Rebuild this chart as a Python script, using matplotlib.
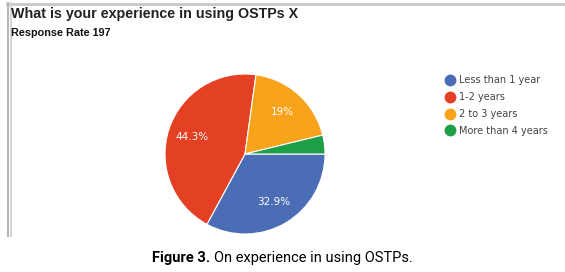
import matplotlib
matplotlib.use("Agg")
import matplotlib.pyplot as plt
from matplotlib.lines import Line2D
import numpy as np

labels = ["Less than 1 year", "1-2 years", "2 to 3 years", "More than 4 years"]
shares = [32.9, 44.3, 19.0, 3.8]
pct_text = ["32.9%", "44.3%", "19%", ""]
colors = ["#4a6db5", "#e44124", "#f8a31c", "#1f9e48"]

W, H = 565, 272
fig = plt.figure(figsize=(W / 100, H / 100), dpi=100)

def fx(px):
    return px / W

def fy(py):
    return 1 - py / H

# screenshot frame (light grey top rule and left double bar)
fig.add_artist(Line2D([fx(7), 1], [fy(4), fy(4)], transform=fig.transFigure,
                      color="#c8c8c8", lw=2))
fig.add_artist(Line2D([fx(8), fx(8)], [fy(3), fy(236)], transform=fig.transFigure,
                      color="#b8b8b8", lw=1.5))
fig.add_artist(Line2D([fx(11), fx(11)], [fy(3), fy(236)], transform=fig.transFigure,
                      color="#d6d6d6", lw=1.5))

fig.text(fx(11), fy(14), "What is your experience in using OSTPs X",
         fontsize=10.3, fontweight="bold", color="#222222", va="center",
         family="Liberation Sans")
fig.text(fx(11), fy(33), "Response Rate 197", fontsize=7.8, fontweight="bold",
         color="#111111", va="center", family="Liberation Sans")

# pie
cx, cy, r = 245, 154, 80
ax = fig.add_axes([fx(cx - r), fy(cy + r), fx(2 * r), fy(cy - r) - fy(cy + r)])
wedges, _ = ax.pie(shares, colors=colors, startangle=0, counterclock=False,
                   wedgeprops=dict(edgecolor="white", linewidth=0.8))
ax.set_xlim(-1, 1)
ax.set_ylim(-1, 1)
ax.set_aspect("equal")

cum = 0
for s, t in zip(shares, pct_text):
    mid = -(cum + s / 2) / 100 * 360
    cum += s
    if t:
        ax.text(0.7 * np.cos(np.radians(mid)), 0.7 * np.sin(np.radians(mid)), t,
                color="white", fontsize=7.5, ha="center", va="center")

handles = [Line2D([], [], marker="o", linestyle="none", markersize=7.5,
                  markerfacecolor=c, markeredgecolor=c) for c in colors]
fig.legend(handles, labels, loc="upper left", bbox_to_anchor=(fx(438), fy(70.5)),
           frameon=False, fontsize=7, labelcolor="#444444",
           handletextpad=0.2, labelspacing=0.7, borderpad=0, handlelength=1.5)

# caption: bold "Figure 3." followed by the regular text
fig.canvas.draw()
cap1 = fig.text(fx(152), fy(258), "Figure 3.", fontsize=10.5, fontweight="bold",
                family="Roboto", va="center")
bb = cap1.get_window_extent(renderer=fig.canvas.get_renderer())
fig.text(bb.x1 / W + fx(4), fy(258), "On experience in using OSTPs.",
         fontsize=10.5, family="Roboto", va="center")

fig.savefig("out.png", dpi=100)
